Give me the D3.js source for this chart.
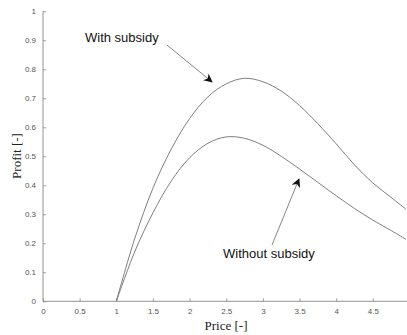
<!DOCTYPE html>
<html><head><meta charset="utf-8">
<script src="https://cdn.jsdelivr.net/npm/d3@7"></script>
<style>body{margin:0;background:#fff}svg{display:block}</style>
</head><body><svg id="c" width="407" height="335"></svg>
<script>
const price = [1.0, 1.25, 1.5, 1.75, 2.0, 2.25, 2.5, 2.75, 3.0, 3.25, 3.5, 3.75, 4.0, 4.25, 4.5, 4.75, 4.95];
const withSubsidy = [0, 0.215, 0.39, 0.525, 0.63, 0.705, 0.75, 0.769, 0.757, 0.725, 0.675, 0.612, 0.543, 0.47, 0.408, 0.358, 0.318];
const withoutSubsidy = [0, 0.17, 0.305, 0.415, 0.495, 0.545, 0.567, 0.562, 0.538, 0.5, 0.456, 0.41, 0.364, 0.32, 0.28, 0.244, 0.214];
const xTicks = [0, 0.5, 1, 1.5, 2, 2.5, 3, 3.5, 4, 4.5];
const yTicks = [0, 0.1, 0.2, 0.3, 0.4, 0.5, 0.6, 0.7, 0.8, 0.9, 1];
const labels = ["With subsidy", "Without subsidy"];

const svg = d3.select("#c");
const x = d3.scaleLinear().domain([0, 5]).range([43, 409.5]);
const y = d3.scaleLinear().domain([0, 1]).range([301.3, 11.3]);

const defs = svg.append("defs");
defs.append("marker").attr("id","ah").attr("viewBox","0 0 10 10").attr("refX",9).attr("refY",5)
  .attr("markerWidth",9).attr("markerHeight",9).attr("markerUnits","userSpaceOnUse").attr("orient","auto")
  .append("path").attr("d","M0,0 L10,5 L0,10 L3,5 Z").attr("fill","#111");

const axColor = "#888";
const xAxis = svg.append("g").attr("transform","translate(0,301.3)")
  .call(d3.axisBottom(x).tickValues(xTicks).tickSize(-3).tickPadding(7).tickFormat(d3.format("")));
const yAxis = svg.append("g").attr("transform","translate(43,0)")
  .call(d3.axisLeft(y).tickValues(yTicks).tickSize(-3).tickPadding(7).tickFormat(d3.format("")));
[xAxis, yAxis].forEach(g => {
  g.select(".domain").attr("stroke", axColor).attr("stroke-width", 0.9);
  g.selectAll(".tick line").attr("stroke", axColor).attr("stroke-width", 0.8);
  g.selectAll(".tick text").attr("fill","#555").attr("font-family","Liberation Sans, Arial, sans-serif").attr("font-size", 8);
});
yAxis.select(".domain").attr("d","M0,301.3V11.3");
xAxis.select(".domain").attr("d","M43,0H409.5");

const line = d3.line().x((d,i)=>x(price[i])).y(d=>y(d)).curve(d3.curveCatmullRom.alpha(0.5));
[withSubsidy, withoutSubsidy].forEach(s => {
  svg.append("path").attr("d", line(s)).attr("fill","none").attr("stroke","#777").attr("stroke-width",0.95);
});

svg.append("text").attr("x", 226).attr("y", 330).attr("text-anchor","middle")
  .attr("font-family","Liberation Serif, Times New Roman, serif").attr("font-size",13).attr("fill","#222").text("Price [-]");
svg.append("text").attr("transform","translate(21,156) rotate(-90)").attr("text-anchor","middle")
  .attr("font-family","Liberation Serif, Times New Roman, serif").attr("font-size",13).attr("fill","#222").text("Profit [-]");

const tf = "Liberation Sans, Arial, Helvetica, sans-serif";
svg.append("text").attr("x",85).attr("y",42).attr("font-family",tf).attr("font-size",13).attr("fill","#111").text(labels[0]);
svg.append("text").attr("x",223).attr("y",258).attr("font-family",tf).attr("font-size",13).attr("fill","#111").text(labels[1]);

svg.append("line").attr("x1",167).attr("y1",45).attr("x2",212).attr("y2",82)
  .attr("stroke","#777").attr("stroke-width",0.9).attr("marker-end","url(#ah)");
svg.append("line").attr("x1",272).attr("y1",245).attr("x2",299).attr("y2",179)
  .attr("stroke","#777").attr("stroke-width",0.9).attr("marker-end","url(#ah)");
</script></body></html>
